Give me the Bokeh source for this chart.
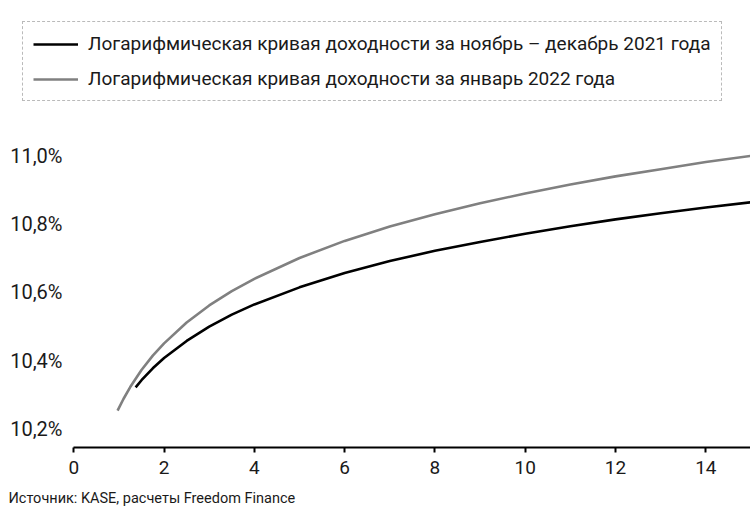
from bokeh.plotting import figure
from bokeh.models import (Legend, LegendItem, Title, FixedTicker, Range1d)
from bokeh.embed import file_html
from bokeh.resources import INLINE

# Log yield curve, Nov-Dec 2021 (term in years, yield in %)
term_nov_dec = [1.37, 1.5, 1.75, 2, 2.5, 3, 3.5, 4, 5, 6, 7, 8, 9, 10, 11, 12, 13, 14, 15]
yield_nov_dec = [10.322, 10.343, 10.378, 10.408, 10.458, 10.500, 10.535, 10.565, 10.615,
                 10.657, 10.692, 10.722, 10.748, 10.772, 10.794, 10.814, 10.832, 10.849, 10.864]

# Log yield curve, January 2022
term_jan = [0.97, 1.1, 1.25, 1.5, 1.75, 2, 2.5, 3, 3.5, 4, 5, 6, 7, 8, 9, 10, 11, 12, 13, 14, 15]
yield_jan = [10.254, 10.288, 10.323, 10.373, 10.415, 10.451, 10.512, 10.562, 10.604, 10.640,
             10.701, 10.751, 10.793, 10.829, 10.861, 10.890, 10.916, 10.940, 10.961, 10.982, 11.000]

x_ticks = [0, 2, 4, 6, 8, 10, 12, 14]
y_ticks = [10.2, 10.4, 10.6, 10.8, 11.0]
y_tick_labels = ["10,2%", "10,4%", "10,6%", "10,8%", "11,0%"]

label_nov_dec = "Логарифмическая кривая доходности за ноябрь – декабрь 2021 года"
label_jan = "Логарифмическая кривая доходности за январь 2022 года"
source_note = "Источник: KASE, расчеты Freedom Finance"

FONT = "Roboto"

# The plotting area spans the legend band as well; the y labels are pulled
# inside it with a negative standoff and the x axis line is bounded to 0..15.
p = figure(width=750, height=524, output_backend="svg", toolbar_location=None,
           x_range=Range1d(-1.136, 14.99), y_range=Range1d(10.146, 11.455),
           min_border_left=22, min_border_right=0, min_border_top=0,
           min_border_bottom=77)
p.outline_line_color = None
p.grid.grid_line_color = None
p.background_fill_color = "white"
p.border_fill_color = "white"

r_nov = p.line(term_nov_dec, yield_nov_dec, line_color="#000000", line_width=2.6)
r_jan = p.line(term_jan, yield_jan, line_color="#808080", line_width=2.6)

# x axis: line with downward ticks
xa = p.xaxis[0]
xa.ticker = FixedTicker(ticks=x_ticks)
xa.bounds = (0, 15)
xa.axis_line_color = "#000000"
xa.axis_line_width = 2
xa.major_tick_line_color = "#000000"
xa.major_tick_line_width = 2
xa.major_tick_in = 0
xa.major_tick_out = 5
xa.minor_tick_line_color = None
xa.major_label_text_font = FONT
xa.major_label_text_font_size = "19px"
xa.major_label_text_color = "#1a1a1a"
xa.major_label_standoff = 8

# y axis: labels only
ya = p.yaxis[0]
ya.ticker = FixedTicker(ticks=y_ticks)
ya.major_label_overrides = {t: s for t, s in zip(y_ticks, y_tick_labels)}
ya.axis_line_color = None
ya.major_tick_line_color = None
ya.major_tick_in = 0
ya.major_tick_out = 0
ya.minor_tick_line_color = None
ya.major_label_text_font = FONT
ya.major_label_text_font_size = "20px"
ya.major_label_text_color = "#1a1a1a"
ya.major_label_standoff = -40

legend = Legend(
    items=[LegendItem(label=label_nov_dec, renderers=[r_nov]),
           LegendItem(label=label_jan, renderers=[r_jan])],
    location=(0, 346),
    orientation="vertical",
    border_line_color="#777777",
    border_line_dash="4 3",
    border_line_width=1,
    background_fill_color="white",
    background_fill_alpha=1,
    label_text_font=FONT,
    label_text_font_size="19px",
    label_text_color="#1a1a1a",
    glyph_width=45,
    glyph_height=20,
    label_height=20,
    label_standoff=10,
    spacing=12,
    padding=10,
    margin=0,
)
p.add_layout(legend, "center")

note = Title(text=source_note, align="left", offset=-14, standoff=22,
             text_font=FONT, text_font_size="14.5px", text_font_style="normal",
             text_color="#1a1a1a")
p.add_layout(note, "below")

open("out.html", "w").write(file_html(p, INLINE))
